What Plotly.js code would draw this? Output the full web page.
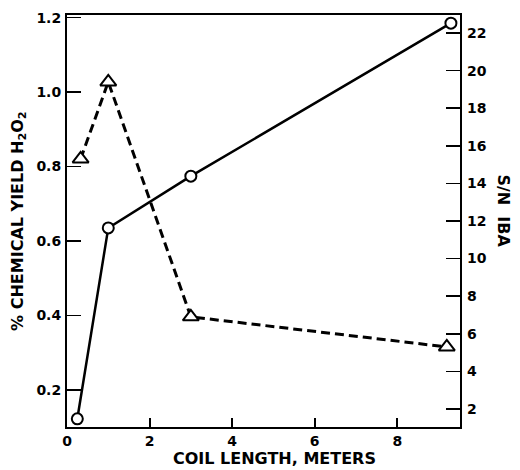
<!DOCTYPE html>
<html>
<head>
<meta charset="utf-8">
<script src="https://cdn.plot.ly/plotly-3.0.1.min.js"></script>
<style>html,body{margin:0;padding:0;background:#fff;}#chart{width:520px;height:470px;}</style>
</head>
<body>
<div id="chart"></div>
<script>
// Data
const yieldLength = [0.25, 1.0, 3.0, 9.3];          // coil length, meters (circles)
const chemicalYield = [0.122, 0.635, 0.774, 1.185]; // % chemical yield H2O2
const snLength = [0.33, 1.0, 3.0, 9.2];             // coil length, meters (triangles)
const snIBA = [15.3, 19.4, 6.9, 5.3];               // S/N IBA

const xTickVals = [0, 2, 4, 6, 8];
const yTickVals = [0.2, 0.4, 0.6, 0.8, 1.0, 1.2];
const yTickText = ["0.2", "0.4", "0.6", "0.8", "1.0", "1.2"];
const y2TickVals = [2, 4, 6, 8, 10, 12, 14, 16, 18, 20, 22];

const fontFam = "DejaVu Sans, Liberation Sans, Arial, sans-serif";
const tickFont = {family: fontFam, size: 14, color: "#000", weight: "bold"};

const traces = [
  {
    x: yieldLength, y: chemicalYield, type: "scatter", mode: "lines+markers",
    line: {color: "#000", width: 2.5},
    marker: {symbol: "circle", size: 11, color: "#fff", line: {color: "#000", width: 2}},
    yaxis: "y", showlegend: false, cliponaxis: false
  },
  {
    x: snLength, y: snIBA, type: "scatter", mode: "lines+markers",
    line: {color: "#000", width: 3, dash: "9px,5px"},
    marker: {symbol: "triangle-up", size: 14, color: "#fff", line: {color: "#000", width: 2}},
    yaxis: "y2", showlegend: false, cliponaxis: false
  }
];

const layout = {
  width: 520, height: 470,
  margin: {l: 67, r: 60, t: 15, b: 43},
  paper_bgcolor: "#fff", plot_bgcolor: "#fff",
  showlegend: false,
  xaxis: {
    range: [0, 9.52], tickvals: xTickVals, ticktext: xTickVals.map(String),
    ticks: "inside", ticklen: 9, tickwidth: 2, tickcolor: "#000",
    showline: true, linewidth: 2, linecolor: "#000", mirror: true,
    showgrid: false, zeroline: false, tickfont: tickFont
  },
  yaxis: {
    range: [0.10, 1.207], tickvals: yTickVals, ticktext: yTickText,
    ticks: "inside", ticklen: 14, tickwidth: 1.5, tickcolor: "#000",
    showline: true, linewidth: 2, linecolor: "#000", mirror: true,
    showgrid: false, zeroline: false, tickfont: tickFont,
    ticklabelstandoff: 1
  },
  yaxis2: {
    range: [1.04, 22.96], tickvals: y2TickVals, ticktext: y2TickVals.map(String),
    overlaying: "y", side: "right", anchor: "x",
    ticks: "inside", ticklen: 14, tickwidth: 1.5, tickcolor: "#000",
    showline: false, showgrid: false, zeroline: false, tickfont: tickFont,
    ticklabelstandoff: 6
  },
  annotations: [
    {
      text: "COIL LENGTH, METERS", xref: "paper", yref: "paper",
      x: 0.527, y: -0.077, xanchor: "center", yanchor: "middle", showarrow: false,
      font: {family: fontFam, size: 16, color: "#000", weight: "bold"}
    },
    {
      text: "% CHEMICAL YIELD H<sub>2</sub>O<sub>2</sub>", xref: "paper", yref: "paper",
      x: -0.125, y: 0.5, xanchor: "center", yanchor: "middle", showarrow: false, textangle: -90,
      font: {family: fontFam, size: 16, color: "#000", weight: "bold"}
    },
    {
      text: "S/N  IBA", xref: "paper", yref: "paper",
      x: 1.11, y: 0.525, xanchor: "center", yanchor: "middle", showarrow: false, textangle: 90,
      font: {family: fontFam, size: 16, color: "#000", weight: "bold"}
    }
  ]
};

Plotly.newPlot("chart", traces, layout, {staticPlot: true, displayModeBar: false});
</script>
</body>
</html>
